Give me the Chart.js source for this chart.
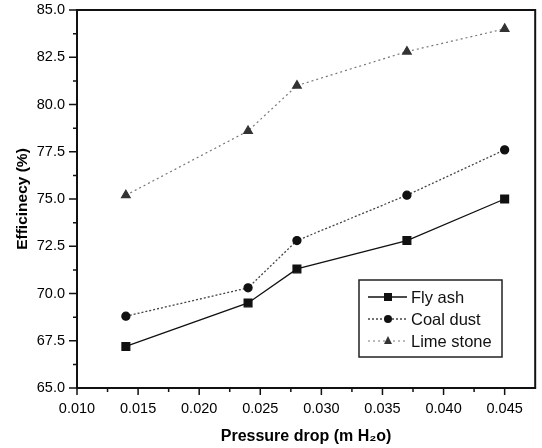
<!DOCTYPE html>
<html lang="en">
<head>
<meta charset="UTF-8">
<title>Efficiency vs pressure drop</title>
<script src="https://cdn.jsdelivr.net/npm/chart.js"></script>
<style>
  body { margin: 0; background: #fff; }
  #wrap { width: 542px; height: 448px; }
</style>
</head>
<body>
<div id="wrap"><canvas id="effChart" width="542" height="448"></canvas></div>
<script>
// values
const pressureDrop = [0.014, 0.024, 0.028, 0.037, 0.045];
const flyAsh = [67.2, 69.5, 71.3, 72.8, 75.0];
const coalDust = [68.8, 70.3, 72.8, 75.2, 77.6];
const limeStone = [75.2, 78.6, 81.0, 82.8, 84.0];
const seriesNames = ["Fly ash", "Coal dust", "Lime stone"];
const xTicks = [0.010, 0.015, 0.020, 0.025, 0.030, 0.035, 0.040, 0.045];
const yTicks = [65.0, 67.5, 70.0, 72.5, 75.0, 77.5, 80.0, 82.5, 85.0];

const FONT = "'Liberation Sans', Arial, sans-serif";

function pts(ys) {
  return ys.map((y, i) => ({ x: pressureDrop[i], y: y }));
}

// frame, minor ticks and the boxed legend
const framePlugin = {
  id: "frame",
  afterDraw(chart) {
    const ctx = chart.ctx;
    const a = chart.chartArea;
    const xs = chart.scales.x, ys = chart.scales.y;
    ctx.save();
    ctx.strokeStyle = "#111";
    ctx.lineWidth = 2;
    ctx.strokeRect(a.left, a.top, a.right - a.left, a.bottom - a.top);

    // major + minor ticks, pointing out
    ctx.lineWidth = 1.5;
    ctx.beginPath();
    for (let i = 0; i < xTicks.length; i++) {
      const px = xs.getPixelForValue(xTicks[i]);
      ctx.moveTo(px, a.bottom); ctx.lineTo(px, a.bottom + 7);
      const mid = xs.getPixelForValue(xTicks[i] + 0.0025);
      if (mid < a.right - 2) { ctx.moveTo(mid, a.bottom); ctx.lineTo(mid, a.bottom + 4); }
    }
    for (let i = 0; i < yTicks.length; i++) {
      const py = ys.getPixelForValue(yTicks[i]);
      ctx.moveTo(a.left, py); ctx.lineTo(a.left - 8, py);
      if (i < yTicks.length - 1) {
        const mid = ys.getPixelForValue(yTicks[i] + 1.25);
        ctx.moveTo(a.left, mid); ctx.lineTo(a.left - 4, mid);
      }
    }
    ctx.stroke();

    // legend box
    const bx = 359, by = 280, bw = 143, bh = 77;
    ctx.lineWidth = 1.5;
    ctx.strokeStyle = "#222";
    ctx.strokeRect(bx, by, bw, bh);
    chart.data.datasets.forEach((ds, i) => {
      const y = by + 17 + i * 22;
      ctx.strokeStyle = ds.borderColor;
      ctx.lineWidth = ds.borderWidth;
      ctx.setLineDash(ds.borderDash || []);
      ctx.beginPath();
      ctx.moveTo(bx + 9, y); ctx.lineTo(bx + 48, y);
      ctx.stroke();
      ctx.setLineDash([]);
      ctx.fillStyle = ds.pointBackgroundColor;
      const r = 4;
      ctx.beginPath();
      if (ds.pointStyle === "rect") {
        ctx.rect(bx + 29 - r, y - r, 2 * r, 2 * r);
      } else if (ds.pointStyle === "circle") {
        ctx.arc(bx + 29, y, r, 0, Math.PI * 2);
      } else {
        ctx.moveTo(bx + 29, y - r - 1); ctx.lineTo(bx + 29 + r, y + r - 1); ctx.lineTo(bx + 29 - r, y + r - 1);
        ctx.closePath();
      }
      ctx.fill();
      ctx.fillStyle = "#111";
      ctx.font = "16.5px " + FONT;
      ctx.textBaseline = "middle";
      ctx.textAlign = "left";
      ctx.fillText(seriesNames[i], bx + 52, y + 1);
    });
    ctx.restore();
  }
};

new Chart(document.getElementById("effChart"), {
  type: "line",
  data: {
    datasets: [
      {
        label: seriesNames[0],
        data: pts(flyAsh),
        borderColor: "#111",
        borderWidth: 1.3,
        pointStyle: "rect",
        pointRadius: 5.5,
        pointBackgroundColor: "#111",
        pointBorderColor: "#111"
      },
      {
        label: seriesNames[1],
        data: pts(coalDust),
        borderColor: "#444",
        borderWidth: 1.3,
        borderDash: [2, 2],
        pointStyle: "circle",
        pointRadius: 4,
        pointBackgroundColor: "#111",
        pointBorderColor: "#111"
      },
      {
        label: seriesNames[2],
        data: pts(limeStone),
        borderColor: "#777",
        borderWidth: 1.2,
        borderDash: [2, 3],
        pointStyle: "triangle",
        pointRadius: 5,
        pointBackgroundColor: "#333",
        pointBorderColor: "#333"
      }
    ]
  },
  options: {
    responsive: false,
    animation: false,
    layout: { padding: { top: 0, right: 2, left: 0, bottom: 0 } },
    plugins: {
      legend: { display: false },
      tooltip: { enabled: false }
    },
    scales: {
      x: {
        type: "linear",
        min: 0.010,
        max: 0.0475,
        afterBuildTicks(scale) { scale.ticks = xTicks.map(v => ({ value: v })); },
        afterFit(scale) { scale.height = 60; },
        grid: { display: false, drawTicks: false },
        border: { display: false },
        ticks: {
          padding: 12,
          color: "#000",
          font: { family: FONT, size: 14.5 },
          callback: v => v.toFixed(3),
          maxRotation: 0
        },
        title: {
          display: true,
          text: "Pressure drop (m H\u2082o)",
          color: "#000",
          font: { family: FONT, size: 16, weight: "bold" },
          padding: { top: 4, bottom: 1.5 }
        }
      },
      y: {
        min: 65,
        max: 85,
        afterBuildTicks(scale) { scale.ticks = yTicks.map(v => ({ value: v })); },
        afterFit(scale) {
          scale.width = 77;
          // keep the plot top at 10px instead of label padding
          scale.paddingTop = 10;
          scale.paddingBottom = 0;
        },
        grid: { display: false, drawTicks: false },
        border: { display: false },
        ticks: {
          padding: 12,
          color: "#000",
          font: { family: FONT, size: 14.5 },
          callback: v => v.toFixed(1)
        },
        title: {
          display: true,
          text: "Efficinecy (%)",
          color: "#000",
          font: { family: FONT, size: 15.5, weight: "bold" },
          padding: { top: 13, bottom: 4 }
        }
      }
    }
  },
  plugins: [framePlugin]
});
</script>
</body>
</html>
